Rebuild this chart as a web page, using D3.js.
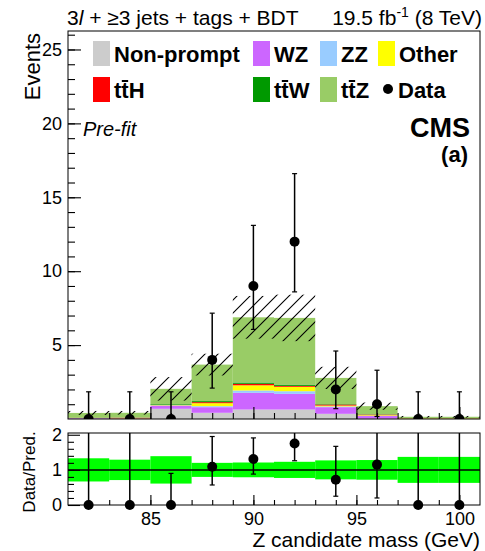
<!DOCTYPE html>
<html>
<head>
<meta charset="utf-8">
<script src="https://cdn.jsdelivr.net/npm/d3@7"></script>
<style>
  body { margin: 0; background: #fff; }
  text { font-family: "Liberation Sans", Arial, Helvetica, sans-serif; }
</style>
</head>
<body>
<div id="chart"></div>
<script>
// bins of the Z candidate mass (GeV), 2 GeV wide
let binLow = [81, 83, 85, 87, 89, 91, 93, 95, 97, 99]
let binWidth = 2

// stacked backgrounds, bottom to top
let nonPrompt = [0, 0, 0.69, 0.42, 0.64, 0.64, 0.35, 0.02, 0, 0]
let wz = [0.05, 0.02, 0.2, 0.38, 1.13, 1.06, 0.45, 0.18, 0.01, 0.01]
let zz = [0.01, 0.01, 0.03, 0.07, 0.16, 0.18, 0.05, 0.02, 0.01, 0.01]
let other = [0.02, 0.02, 0.02, 0.2, 0.35, 0.3, 0.06, 0.04, 0.03, 0.03]
let ttH = [0.01, 0.04, 0.01, 0.07, 0.1, 0.06, 0.07, 0.04, 0.01, 0.01]
let ttW = [0.02, 0.01, 0.05, 0.07, 0.09, 0.09, 0.03, 0.02, 0.01, 0.01]
let ttZ = [0.3, 0.32, 1.04, 2.47, 4.41, 4.51, 1.77, 0.55, 0.08, 0.08]

// relative uncertainty of the prediction
let relUnc = [0.33, 0.29, 0.39, 0.2, 0.21, 0.23, 0.27, 0.28, 0.37, 0.37]

// observed data with error bars
let data = [0, 0, 0, 4, 9, 12, 2, 1, 0, 0]
let dataLo = [0, 0, 0, 2.09, 6.06, 8.6, 0.7, 0.17, 0, 0]
let dataHi = [1.84, 1.84, 1.84, 7.16, 13.1, 16.6, 4.6, 3.3, 1.84, 1.84]

// ratio panel
let ratio = [0, 0, 0, 1.09, 1.31, 1.75, 0.72, 1.15, 0, 0]
let ratioLo = [0, 0, 0, 0.57, 0.88, 1.26, 0.25, 0.2, 0, 0]
let ratioHi = [4.5, 4.4, 0.9, 1.95, 1.91, 2.43, 1.67, 3.8, 12, 12]

let xTicks = [85, 90, 95, 100]
let yTicks = [5, 10, 15, 20, 25]
let rTicks = [0, 1, 2]

let keys = ['nonPrompt', 'wz', 'zz', 'other', 'ttH', 'ttW', 'ttZ']
let colors = {
  nonPrompt: '#cccccc',
  wz: '#cc66ff',
  zz: '#99ccff',
  other: '#ffff00',
  ttH: '#ff0000',
  ttW: '#009900',
  ttZ: '#99cc66'
}

let width = 485
let height = 551
let left = 68
let right = 480
let mainTop = 31
let mainBottom = 419
let ratioTop = 433
let ratioBottom = 505

let svg = d3
  .select('#chart')
  .append('svg')
  .attr('width', width)
  .attr('height', height)

let x = d3.scaleLinear().domain([81, 101]).range([left, right])
let y = d3.scaleLinear().domain([0, 26.25]).range([mainBottom, mainTop])
let yr = d3.scaleLinear().domain([0, 2.05]).range([ratioBottom, ratioTop])
let bw = x(81 + binWidth) - x(81)

// hatch for the uncertainty band
svg
  .append('defs')
  .append('pattern')
  .attr('id', 'hatch')
  .attr('patternUnits', 'userSpaceOnUse')
  .attr('width', 13)
  .attr('height', 13)
  .append('path')
  .attr('d', 'M0,13 L13,0 M-3,3 L3,-3 M10,16 L16,10')
  .attr('stroke', 'black')
  .attr('stroke-width', 1.1)

svg
  .append('clipPath')
  .attr('id', 'mainclip')
  .append('rect')
  .attr('x', left)
  .attr('y', mainTop)
  .attr('width', right - left)
  .attr('height', mainBottom - mainTop)

let rows = binLow.map((b, i) => ({
  i: i,
  low: b,
  nonPrompt: nonPrompt[i],
  wz: wz[i],
  zz: zz[i],
  other: other[i],
  ttH: ttH[i],
  ttW: ttW[i],
  ttZ: ttZ[i]
}))

let stacked = d3.stack().keys(keys)(rows)

let main = svg.append('g').attr('clip-path', 'url(#mainclip)')

main
  .selectAll('.layer')
  .data(stacked)
  .enter()
  .append('g')
  .attr('fill', d => colors[d.key])
  .selectAll('rect')
  .data(d => d)
  .enter()
  .append('rect')
  .attr('x', d => x(d.data.low))
  .attr('width', bw)
  .attr('y', d => y(d[1]))
  .attr('height', d => y(d[0]) - y(d[1]))

let totals = rows.map(r => d3.sum(keys, k => r[k]))

// uncertainty band
main
  .selectAll('.unc')
  .data(rows)
  .enter()
  .append('rect')
  .attr('x', d => x(d.low))
  .attr('width', bw)
  .attr('y', d => y(totals[d.i] * (1 + relUnc[d.i])))
  .attr('height', d => y(totals[d.i] * (1 - relUnc[d.i])) - y(totals[d.i] * (1 + relUnc[d.i])))
  .attr('fill', 'url(#hatch)')

// draws points with vertical error bars and small end caps
function drawPoints(g, scale, vals, lo, hi, maxVal) {
  let pts = g
    .selectAll('.pt')
    .data(rows)
    .enter()
    .append('g')
    .attr('transform', d => `translate(${x(d.low + binWidth / 2)},0)`)
  pts
    .append('line')
    .attr('y1', d => scale(lo[d.i]))
    .attr('y2', d => scale(Math.min(hi[d.i], maxVal)))
    .attr('stroke', 'black')
    .attr('stroke-width', 1.5)
  pts
    .filter(d => hi[d.i] < maxVal)
    .append('line')
    .attr('x1', -2.5)
    .attr('x2', 2.5)
    .attr('y1', d => scale(hi[d.i]))
    .attr('y2', d => scale(hi[d.i]))
    .attr('stroke', 'black')
    .attr('stroke-width', 1.2)
  pts
    .filter(d => lo[d.i] > 0)
    .append('line')
    .attr('x1', -2.5)
    .attr('x2', 2.5)
    .attr('y1', d => scale(lo[d.i]))
    .attr('y2', d => scale(lo[d.i]))
    .attr('stroke', 'black')
    .attr('stroke-width', 1.2)
  pts
    .append('circle')
    .attr('cy', d => scale(vals[d.i]))
    .attr('r', 5)
    .attr('fill', 'black')
}

drawPoints(main, y, data, dataLo, dataHi, 26.25)

// main axes
let mainAxes = svg.append('g')
mainAxes
  .append('g')
  .attr('transform', `translate(${left},0)`)
  .call(d3.axisLeft(y).tickValues(yTicks).tickSize(-13).tickPadding(6))
mainAxes
  .append('g')
  .attr('transform', `translate(${left},0)`)
  .call(d3.axisLeft(y).tickValues(d3.range(1, 27)).tickSize(-7).tickFormat(''))
mainAxes
  .append('g')
  .attr('transform', `translate(0,${mainBottom})`)
  .call(d3.axisBottom(x).tickValues(xTicks).tickSize(-12).tickFormat(''))
mainAxes
  .append('g')
  .attr('transform', `translate(0,${mainBottom})`)
  .call(d3.axisBottom(x).tickValues(d3.range(82, 101)).tickSize(-6).tickFormat(''))
mainAxes.selectAll('.domain').remove()
mainAxes.selectAll('line').attr('stroke-width', 1.1)
mainAxes.selectAll('text').attr('font-size', 18).attr('fill', 'black')

svg
  .append('rect')
  .attr('x', left)
  .attr('y', mainTop)
  .attr('width', right - left)
  .attr('height', mainBottom - mainTop)
  .attr('fill', 'none')
  .attr('stroke', 'black')

// ratio panel
let rp = svg.append('g')
rp.selectAll('.band')
  .data(rows)
  .enter()
  .append('rect')
  .attr('x', d => x(d.low))
  .attr('width', bw)
  .attr('y', d => yr(1 + relUnc[d.i]))
  .attr('height', d => yr(1 - relUnc[d.i]) - yr(1 + relUnc[d.i]))
  .attr('fill', '#00ff00')

rp.append('line')
  .attr('x1', left)
  .attr('x2', right)
  .attr('y1', yr(1))
  .attr('y2', yr(1))
  .attr('stroke', 'black')
  .attr('stroke-width', 1.5)

drawPoints(rp, yr, ratio, ratioLo, ratioHi, 2.05)

let rAxes = svg.append('g')
rAxes
  .append('g')
  .attr('transform', `translate(${left},0)`)
  .call(d3.axisLeft(yr).tickValues(rTicks).tickSize(-12).tickPadding(6).tickFormat(d3.format('d')))
rAxes
  .append('g')
  .attr('transform', `translate(${left},0)`)
  .call(d3.axisLeft(yr).tickValues(d3.range(0.2, 2, 0.2)).tickSize(-6).tickFormat(''))
rAxes
  .append('g')
  .attr('transform', `translate(0,${ratioBottom})`)
  .call(d3.axisBottom(x).tickValues(xTicks).tickSize(-10).tickPadding(7))
rAxes
  .append('g')
  .attr('transform', `translate(0,${ratioBottom})`)
  .call(d3.axisBottom(x).tickValues(d3.range(82, 101)).tickSize(-5).tickFormat(''))
rAxes.selectAll('.domain').remove()
rAxes.selectAll('line').attr('stroke-width', 1.1)
rAxes.selectAll('text').attr('font-size', 18).attr('fill', 'black')

svg
  .append('rect')
  .attr('x', left)
  .attr('y', ratioTop)
  .attr('width', right - left)
  .attr('height', ratioBottom - ratioTop)
  .attr('fill', 'none')
  .attr('stroke', 'black')

// axis titles
svg
  .append('text')
  .attr('x', right)
  .attr('y', 547)
  .attr('text-anchor', 'end')
  .attr('font-size', 21)
  .text('Z candidate mass (GeV)')
svg
  .append('text')
  .attr('transform', 'translate(40,33) rotate(-90)')
  .attr('text-anchor', 'end')
  .attr('font-size', 22)
  .text('Events')
svg
  .append('text')
  .attr('transform', 'translate(35,472) rotate(-90)')
  .attr('text-anchor', 'middle')
  .attr('font-size', 17)
  .text('Data/Pred.')

// header
let t1 = svg.append('text').attr('x', 67).attr('y', 25).attr('font-size', 21)
t1.append('tspan').text('3')
t1.append('tspan').attr('font-style', 'italic').text('l')
t1.append('tspan').text(' + ≥3 jets + tags + BDT')

let t2 = svg
  .append('text')
  .attr('x', right + 2)
  .attr('y', 25)
  .attr('text-anchor', 'end')
  .attr('font-size', 21)
t2.append('tspan').text('19.5 fb')
t2.append('tspan').attr('font-size', 14).attr('dy', -8).text('-1')
t2.append('tspan').attr('dy', 8).text(' (8 TeV)')

svg
  .append('text')
  .attr('x', 83)
  .attr('y', 136)
  .attr('font-size', 20)
  .attr('font-style', 'italic')
  .text('Pre-fit')
svg
  .append('text')
  .attr('x', 470)
  .attr('y', 137)
  .attr('text-anchor', 'end')
  .attr('font-size', 27)
  .attr('font-weight', 'bold')
  .text('CMS')
svg
  .append('text')
  .attr('x', 468)
  .attr('y', 162)
  .attr('text-anchor', 'end')
  .attr('font-size', 22)
  .attr('font-weight', 'bold')
  .text('(a)')

// legend
let legendItems = [
  { key: 'nonPrompt', label: 'Non-prompt', bar: false, x: 93, row: 0 },
  { key: 'wz', label: 'WZ', bar: false, x: 253, row: 0 },
  { key: 'zz', label: 'ZZ', bar: false, x: 320, row: 0 },
  { key: 'other', label: 'Other', bar: false, x: 378, row: 0 },
  { key: 'ttH', label: 'ttH', bar: true, x: 93, row: 1 },
  { key: 'ttW', label: 'ttW', bar: true, x: 253, row: 1 },
  { key: 'ttZ', label: 'ttZ', bar: true, x: 320, row: 1 }
]

let legend = svg.append('g')
legendItems.forEach(function(d) {
  let top = d.row === 0 ? 41 : 77
  legend
    .append('rect')
    .attr('x', d.x)
    .attr('y', top)
    .attr('width', 17)
    .attr('height', 25)
    .attr('fill', colors[d.key])
  let t = legend
    .append('text')
    .attr('x', d.x + 21)
    .attr('y', top + 21)
    .attr('font-size', 22)
    .attr('font-weight', 'bold')
    .text(d.label)
  if (d.bar) {
    // anti-top bar over the second t
    let node = t.node()
    let x0 = node.getStartPositionOfChar(1).x
    let x1 = node.getEndPositionOfChar(1).x
    legend
      .append('line')
      .attr('x1', x0 + 0.5)
      .attr('x2', x1 - 0.5)
      .attr('y1', top + 4)
      .attr('y2', top + 4)
      .attr('stroke', 'black')
      .attr('stroke-width', 2)
  }
})
legend
  .append('circle')
  .attr('cx', 388)
  .attr('cy', 89)
  .attr('r', 5)
  .attr('fill', 'black')
legend
  .append('text')
  .attr('x', 398)
  .attr('y', 98)
  .attr('font-size', 22)
  .attr('font-weight', 'bold')
  .text('Data')
</script>
</body>
</html>
